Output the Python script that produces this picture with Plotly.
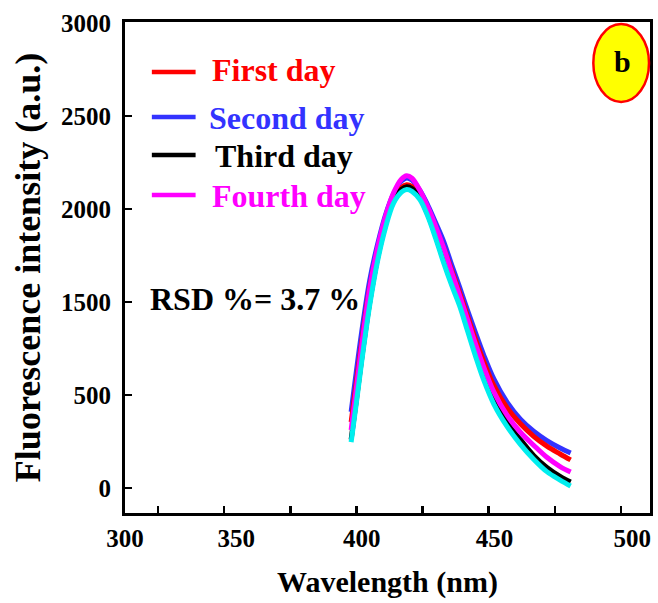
import plotly.graph_objects as go

# ---------------- data ----------------
WAVELENGTH = [396, 398, 400, 403, 406, 409, 412, 415, 417, 419, 422, 425, 428,
              431, 434, 437, 440, 443, 446, 450, 455, 460, 465, 470, 475, 479]

FIRST_DAY = [855, 1070, 1285, 1575, 1780, 1940, 2055, 2115, 2130, 2120, 2070, 1990, 1895,
             1790, 1670, 1550, 1425, 1300, 1185, 1050, 930, 845, 778, 725, 683, 651]
SECOND_DAY = [909, 1130, 1339, 1615, 1810, 1968, 2080, 2150, 2167, 2155, 2100, 2020, 1925,
              1825, 1700, 1580, 1455, 1335, 1220, 1085, 960, 870, 805, 755, 715, 688]
THIRD_DAY = [760, 975, 1195, 1495, 1735, 1915, 2045, 2105, 2120, 2110, 2060, 1970, 1852,
             1722, 1603, 1494, 1360, 1226, 1102, 968, 850, 760, 675, 610, 562, 532]
FOURTH_DAY = [812, 1040, 1265, 1570, 1790, 1960, 2085, 2160, 2178, 2165, 2100, 2010, 1905,
              1790, 1660, 1535, 1405, 1275, 1155, 1015, 890, 800, 730, 665, 615, 586]
FIFTH_RUN = [747, 960, 1180, 1480, 1720, 1900, 2030, 2090, 2105, 2095, 2050, 1960, 1840,
             1710, 1590, 1480, 1345, 1210, 1085, 950, 830, 735, 655, 588, 543, 511]

SERIES_NAMES = ["First day", "Second day", "Third day", "Fourth day"]

X_LABEL_VALS = [310.5, 352.6, 400, 450.2, 502.3]
X_LABEL_TEXT = ["300", "350", "400", "450", "500"]
X_TICK_MARKS = [323, 348, 373, 398, 423, 448, 473, 498]
Y_TICK_VALS = [500, 1000, 1500, 2000, 2500, 3000]
Y_TICK_TEXT = ["0", "500", "1500", "2000", "2500", "3000"]

FONT = "Liberation Serif"
RED, BLUE, BLACK, MAGENTA, CYAN = "#FF0000", "#3333FF", "#000000", "#FF00FF", "#00EEEE"

W, H = 658, 603
L, R, T, B = 125, 5, 22, 90
PW, PH = W - L - R, H - T - B


def fx(px):
    return (px - L) / PW


def fy(py):
    return (H - B - py) / PH


fig = go.Figure()
draw = [(SECOND_DAY, BLUE), (FIRST_DAY, RED), (THIRD_DAY, BLACK),
        (FOURTH_DAY, MAGENTA), (FIFTH_RUN, CYAN)]
for ys, col in draw:
    fig.add_trace(go.Scatter(x=WAVELENGTH, y=ys, mode="lines",
                             line=dict(color=col, width=5, shape="spline", smoothing=1.0),
                             showlegend=False, hoverinfo="skip"))

# legend drawn manually
leg_cols = [RED, BLUE, BLACK, MAGENTA]
leg_line_y = [72, 117, 155, 195]
leg_text_y = [70, 118, 156, 196]
leg_text_x = [210, 207, 213, 210]
shapes = []
annotations = []
for name, col, ly, ty, tx in zip(SERIES_NAMES, leg_cols, leg_line_y, leg_text_y, leg_text_x):
    shapes.append(dict(type="line", xref="x domain", yref="y domain",
                       x0=fx(152), x1=fx(196), y0=fy(ly), y1=fy(ly),
                       line=dict(color=col, width=4.5)))
    annotations.append(dict(text=name, xref="x domain", yref="y domain",
                            x=fx(tx), y=fy(ty), xanchor="left", yanchor="middle",
                            showarrow=False,
                            font=dict(family=FONT, size=32, color=col, weight="bold")))

annotations.append(dict(text="RSD %= 3.7 %", xref="x domain", yref="y domain",
                        x=fx(148), y=fy(299), xanchor="left", yanchor="middle",
                        showarrow=False,
                        font=dict(family=FONT, size=32, color="black", weight="bold")))

# badge
shapes.append(dict(type="circle", xref="x domain", yref="y domain",
                   x0=fx(596), x1=fx(652), y0=fy(24), y1=fy(102),
                   fillcolor="#FFFF00", line=dict(color="#FF0000", width=2.5)))
annotations.append(dict(text="b", xref="x domain", yref="y domain",
                        x=fx(625), y=fy(62), xanchor="center", yanchor="middle",
                        showarrow=False,
                        font=dict(family=FONT, size=30, color="black", weight="bold")))

fig.update_layout(
    width=W, height=H,
    margin=dict(l=L, r=R, t=T, b=B),
    paper_bgcolor="white", plot_bgcolor="white",
    shapes=shapes, annotations=annotations,
    xaxis=dict(range=[310.5, 509], showgrid=False, zeroline=False,
               showline=True, linecolor="black", linewidth=3, mirror=True,
               tickmode="array", tickvals=X_LABEL_VALS, ticktext=X_LABEL_TEXT,
               ticks="", ticklabelstandoff=1,
               minor=dict(tickmode="array", tickvals=X_TICK_MARKS, ticks="inside",
                          ticklen=7, tickwidth=2.5, tickcolor="black"),
               tickfont=dict(family=FONT, size=25, color="black", weight="bold"),
               title=dict(text="Wavelength (nm)", standoff=20,
                          font=dict(family=FONT, size=30, color="black", weight="bold"))),
    yaxis=dict(range=[365.7, 3005], showgrid=False, zeroline=False,
               showline=True, linecolor="black", linewidth=3, mirror=True,
               tickmode="array", tickvals=Y_TICK_VALS, ticktext=Y_TICK_TEXT,
               ticks="inside", ticklen=7, tickwidth=2.5, tickcolor="black",
               ticklabelstandoff=6,
               tickfont=dict(family=FONT, size=25, color="black", weight="bold"),
               title=dict(text="Fluorescence intensity (a.u.)", standoff=10,
                          font=dict(family=FONT, size=36, color="black", weight="bold"))),
)

fig.write_html("out.html", config={"displayModeBar": False, "staticPlot": True})

# remove the browser's default page margin so the figure sits at the window origin
with open("out.html", "r", encoding="utf-8") as f:
    html = f.read()
html = html.replace("<head>", "<head><style>html,body{margin:0;padding:0;}</style>", 1)
with open("out.html", "w", encoding="utf-8") as f:
    f.write(html)
